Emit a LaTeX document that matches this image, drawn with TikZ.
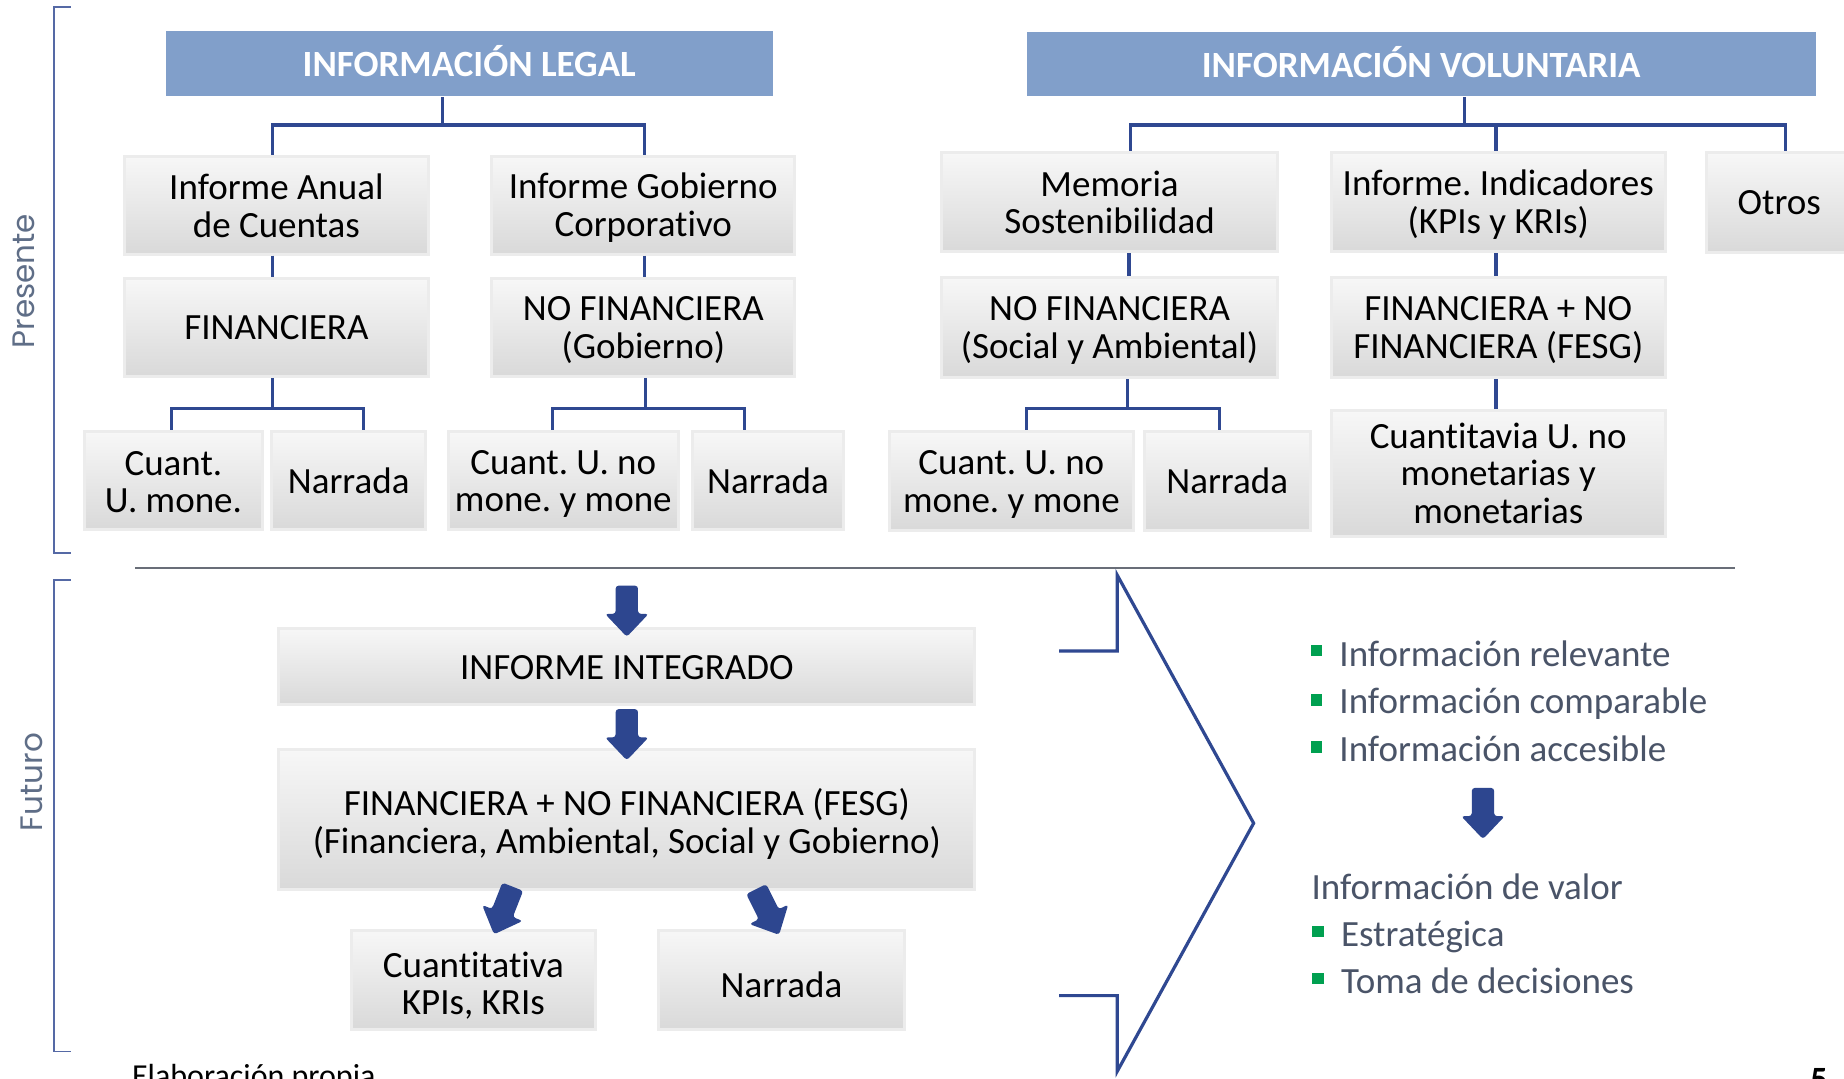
\documentclass[tikz,border=0pt]{standalone}
\usepackage{fontspec}
\setmainfont{Carlito}[Ligatures={NoCommon}]
\newfontfamily\geofont{Poppins}
\frenchspacing
\definecolor{hdr}{RGB}{129,159,202}
\definecolor{conn}{RGB}{47,72,145}
\definecolor{arrblue}{RGB}{45,70,143}
\definecolor{brk}{RGB}{85,105,165}
\definecolor{lbl}{RGB}{95,110,135}
\definecolor{lsttext}{RGB}{74,84,104}
\definecolor{grn}{RGB}{0,160,80}
\definecolor{sepgray}{RGB}{105,110,120}
\definecolor{boxtop}{RGB}{247,247,247}
\definecolor{boxbot}{RGB}{217,217,217}
\definecolor{boxrim}{RGB}{236,236,236}
\def\U{0.588pt}
\tikzset{
  gbox/.style={draw=boxrim, line width=1.5pt, top color=boxtop, bottom color=boxbot, inner sep=0pt},
  gtext/.style={align=center, inner sep=0pt, text=black, font=\fontsize{18.5}{18.8}\selectfont},
  hbox/.style={fill=hdr, inner sep=0pt},
  htext/.style={inner sep=0pt, text=white, font=\bfseries\fontsize{18.5}{20}\selectfont},
  connline/.style={draw=conn, line width=1.6pt},
  brkline/.style={draw=brk, line width=0.8pt},
  chevline/.style={draw=conn, line width=1.6pt, line join=miter},
  sepline/.style={draw=sepgray, line width=1pt},
  lst/.style={text=lsttext, inner sep=0pt, font=\fontsize{18.5}{20}\selectfont},
  sidelabel/.style={rotate=90, text=lbl, inner sep=0pt, font=\geofont\fontsize{15.5}{18}\selectfont},
  barrow/.pic={\fill[arrblue, rounded corners=1.5pt] (-9.5,0) -- (9.5,0) -- (9.5,24) -- (18.5,24) -- (0,43.5) -- (-18.5,24) -- (-9.5,24) -- cycle;}
}
% box: name, x1, y1, x2, y2, text, text shift down (px)
\newcommand\gb[7]{\node[gbox, minimum width={(#4-#2)*0.588pt}, minimum height={(#5-#3)*0.588pt}] (#1) at ({(#2+#4)/2},{(#3+#5)/2}) {};
  \node[gtext] (#1-t) at ([yshift={-(#7)*0.588pt}]#1.center) {#6};}
\newcommand\hb[7]{\node[hbox, minimum width={(#4-#2)*0.588pt}, minimum height={(#5-#3)*0.588pt}] (#1) at ({(#2+#4)/2},{(#3+#5)/2}) {};
  \node[htext] (#1-t) at ([yshift={-(#7)*0.588pt}]#1.center) {#6};}
\begin{document}
\begin{tikzpicture}[x=0.588pt,y=-0.588pt]
\useasboundingbox (0,0) rectangle (1568,917);
\fill[white] (0,0) rectangle (1568,917);

% side labels and brackets
\draw[brkline] (60,6) -- (46,6) -- (46,470) -- (60,470);
\draw[brkline] (60,493) -- (46,493) -- (46,894) -- (60,894);
\node[sidelabel] (pres) at (20,239) {Presente};
\node[sidelabel] (fut) at (27,665) {Futuro};

% headers
\hb{legal}{141}{26}{657}{82}{INFORMACIÓN LEGAL}{-2}
\hb{volun}{873}{27}{1544}{82}{INFORMACIÓN VOLUNTARIA}{-2}

% legal boxes
\gb{iac}{106}{133}{364}{216}{Informe Anual\\de Cuentas}{0.5}
\gb{igc}{418}{133}{676}{216}{Informe Gobierno\\Corporativo}{2}
\gb{fin}{106}{237}{364}{320}{FINANCIERA}{0}
\gb{nofg}{418}{237}{676}{320}{NO FINANCIERA\\(Gobierno)}{2}
\gb{cum}{72}{367}{223}{450}{Cuant.\\U. mone.}{1.5}
\gb{nar1}{231}{367}{362}{450}{Narrada}{0}
\gb{cun1}{381}{367}{577}{450}{Cuant. U. no\\mone. y mone}{3}
\gb{nar2}{589}{367}{717}{450}{Narrada}{0}

% voluntary boxes
\gb{mem}{801}{130}{1086}{214}{Memoria\\Sostenibilidad}{0}
\gb{ind}{1132}{130}{1416}{214}{Informe. Indicadores\\(KPIs y KRIs)}{2}
\gb{otr}{1451}{130}{1575}{215}{Otros}{0}
\gb{nofsa}{801}{236}{1086}{321}{NO FINANCIERA\\(Social y Ambiental)}{2.5}
\gb{fesga}{1132}{236}{1416}{321}{FINANCIERA + NO\\FINANCIERA (FESG)}{2}
\gb{cun2}{756}{367}{964}{451}{Cuant. U. no\\mone. y mone}{3}
\gb{nar3}{973}{367}{1114}{451}{Narrada}{0}
\gb{cuv}{1132}{349}{1416}{456}{Cuantitavia U. no\\monetarias y\\monetarias}{0}

% legal connectors
\draw[connline] ([xshift=-23*\U]legal.south) -- ++(0,24) -| ([xshift=-3*\U]iac.north);
\draw[connline] ([xshift=-23*\U]legal.south) ++(0,24) -| ([xshift=1*\U]igc.north);
\draw[connline] ([xshift=-3*\U]iac.south) -- ([xshift=-3*\U]fin.north);
\draw[connline] ([xshift=1*\U]igc.south) -- ([xshift=1*\U]nofg.north);
\draw[connline] ([xshift=-3*\U]fin.south) -- ++(0,26) -| ([xshift=-2*\U]cum.north);
\draw[connline] ([xshift=-3*\U]fin.south) ++(0,26) -| ([xshift=12.5*\U]nar1.north);
\draw[connline] ([xshift=2*\U]nofg.south) -- ++(0,26) -| ([xshift=-9.5*\U]cun1.north);
\draw[connline] ([xshift=2*\U]nofg.south) ++(0,26) -| ([xshift=-20*\U]nar2.north);

% voluntary connectors
\draw[connline] ([xshift=36.5*\U]volun.south) -- ++(0,24) -| ([xshift=17.5*\U]mem.north);
\draw[connline] ([xshift=36.5*\U]volun.south) ++(0,24) -| ([xshift=-2*\U]ind.north);
\draw[connline] ([xshift=36.5*\U]volun.south) ++(0,24) -| ([xshift=5*\U]otr.north);
\draw[connline] ([xshift=16.5*\U]mem.south) -- ([xshift=16.5*\U]nofsa.north);
\draw[connline] ([xshift=-2*\U]ind.south) -- ([xshift=-2*\U]fesga.north);
\draw[connline] ([xshift=15.5*\U]nofsa.south) -- ++(0,25) -| ([xshift=13*\U]cun2.north);
\draw[connline] ([xshift=15.5*\U]nofsa.south) ++(0,25) -| ([xshift=-6.5*\U]nar3.north);
\draw[connline] ([xshift=-2*\U]fesga.south) -- ([xshift=-2*\U]cuv.north);

% separator
\coordinate (sepL) at (115,483);
\coordinate (sepR) at (1475,483);
\draw[sepline] (sepL) -- (sepR);

% future boxes
\gb{ii}{237}{534}{829}{599}{INFORME INTEGRADO}{1}
\gb{fesgb}{237}{637}{829}{756}{FINANCIERA + NO FINANCIERA (FESG)\\(Financiera, Ambiental, Social y Gobierno)}{4}
\gb{kpi}{299}{791}{506}{875}{Cuantitativa\\KPIs, KRIs}{5}
\gb{nar4}{560}{791}{769}{875}{Narrada}{4}

% block arrows
\pic at (533,498) {barrow};
\pic at (533,603) {barrow};
\pic[rotate=-21.5] at (436,754) {barrow};
\pic[rotate=26.6] at (643,756) {barrow};
\pic at (1261,670) {barrow};

% chevron
\draw[chevline] (900.5,553.6) -- (950,553.6) -- (950,489) -- (1066,700) -- (950,911) -- (950,846.6) -- (900.5,846.6);

% list
\node[lst, anchor=base west] (l1) at (1138.6,566.5) {Información relevante};
\node[lst, anchor=base west] (l2) at (1138.6,607) {Información comparable};
\node[lst, anchor=base west] (l3) at (1138.6,647.6) {Información accesible};
\node[lst, anchor=base west] (l4) at (1115,765) {Información de valor};
\node[lst, anchor=base west] (l5) at (1140,805) {Estratégica};
\node[lst, anchor=base west] (l6) at (1140,844.5) {Toma de decisiones};
\fill[grn] (1115,548.5) rectangle (1124.5,558);
\fill[grn] (1115,590.5) rectangle (1124.5,600);
\fill[grn] (1115,630.5) rectangle (1124.5,640);
\fill[grn] (1116,787.5) rectangle (1125.5,797);
\fill[grn] (1116,827.5) rectangle (1125.5,837);

% footer (cut by page edge, as in the reference)
\node[anchor=base west, inner sep=0pt, font=\fontsize{16}{18}\selectfont] (src) at (112,924) {Elaboración propia};
\node[anchor=base west, inner sep=0pt, font=\bfseries\fontsize{17}{18}\selectfont] (pg) at (1539,927) {5};
\end{tikzpicture}
\end{document}
